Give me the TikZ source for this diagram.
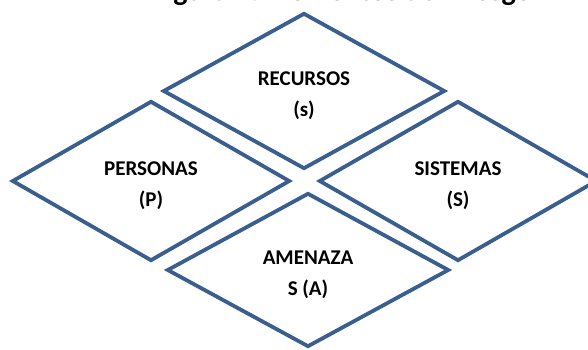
\documentclass[tikz,border=0pt]{standalone}
\usepackage{fontspec}
\setmainfont{Carlito}
\usetikzlibrary{shapes.geometric}
\definecolor{edgeblue}{HTML}{3A5F8E}
\tikzset{
  elem/.style={shape=diamond, draw=edgeblue, line width=3.8pt, fill=white,
    line join=miter, inner sep=0pt},
  elemtext/.style={inner sep=0pt, align=center, yshift=-4.5pt,
    font=\fontsize{21}{31}\selectfont\bfseries},
  titletext/.style={font=\fontsize{30}{34}\selectfont\bfseries, inner sep=0pt, anchor=base}
}
\begin{document}
\begin{tikzpicture}[x=1pt,y=-1pt]
  \useasboundingbox (0,0) rectangle (588,350);
  \clip (0,0) rectangle (588,350);
  \node[titletext] (title) at (342,0.5) {Figura 1. Elementos del Riesgo};
  \node[elem, minimum width=282pt, minimum height=156pt] (rec) at (304,91) {};
  \node[elem, minimum width=278pt, minimum height=160pt] (per) at (151,181) {};
  \node[elem, minimum width=278pt, minimum height=160pt] (sis) at (458,181) {};
  \node[elem, minimum width=282pt, minimum height=154pt] (ame) at (308,270) {};
  \node[elemtext] (rect) at (rec) {RECURSOS\\(s)};
  \node[elemtext] (pert) at (per) {PERSONAS\\(P)};
  \node[elemtext] (sist) at (sis) {SISTEMAS\\(S)};
  \node[elemtext] (amet) at (ame) {AMENAZA\\S (A)};
\end{tikzpicture}
\end{document}
